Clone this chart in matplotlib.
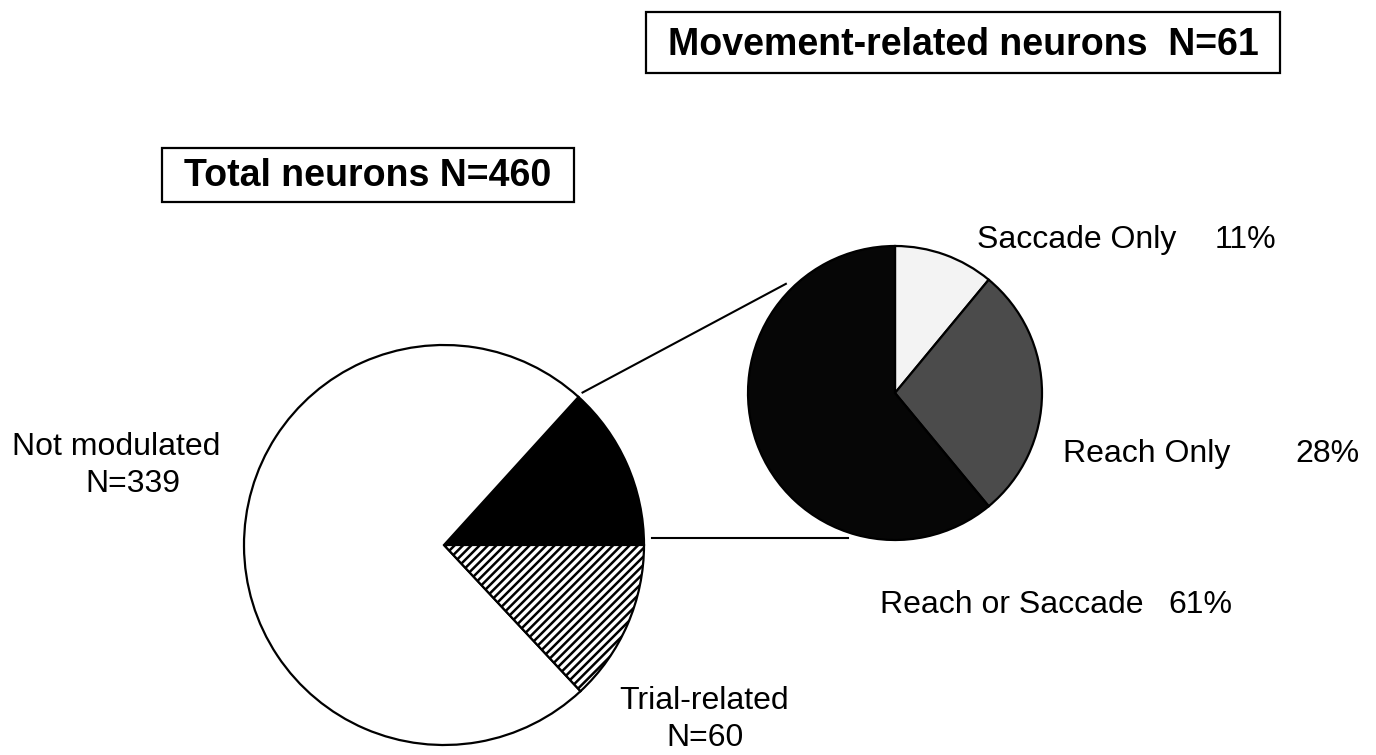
import matplotlib.pyplot as plt
from matplotlib.lines import Line2D
from matplotlib.patches import Rectangle
import numpy as np

# all neurons
total_counts = [61, 339, 60]          # movement, not modulated, trial
total_colors = ['black', 'white', 'white']
total_hatches = [None, None, '////']

# movement-related neurons, percent
move_labels = ['Saccade Only', 'Reach Only', 'Reach or Saccade']
move_pct = [11, 28, 61]
move_colors = ['#f3f3f3', '#4b4b4b', '#060606']

W, H = 1376, 755


def py(y):
    # pixel row (from top) -> axes y
    return H - y


def main():
    plt.rcParams['font.family'] = ['Liberation Sans', 'DejaVu Sans']
    plt.rcParams['hatch.linewidth'] = 1.8
    fig = plt.figure(figsize=(W / 100, H / 100), dpi=100)
    ax = fig.add_axes([0, 0, 1, 1])

    big_c = (444, py(545))
    big_r = 200
    wedges, _ = ax.pie(total_counts, colors=total_colors, startangle=0,
                       center=big_c, radius=big_r, frame=True,
                       wedgeprops=dict(edgecolor='black', linewidth=1.6))
    for w, h in zip(wedges, total_hatches):
        if h:
            w.set_hatch(h)

    small_c = (895, py(393))
    small_r = 147
    ax.pie(move_pct, colors=move_colors, startangle=90, counterclock=False,
           center=small_c, radius=small_r, frame=True,
           wedgeprops=dict(edgecolor='black', linewidth=1.6))

    # connecting lines between the two pies
    a = np.deg2rad(total_counts[0] / sum(total_counts) * 360)
    x0 = big_c[0] + 1.03 * big_r * np.cos(a)
    y0 = big_c[1] + 1.03 * big_r * np.sin(a)
    x1 = small_c[0] + 1.05 * small_r * np.cos(np.deg2rad(135))
    y1 = small_c[1] + 1.05 * small_r * np.sin(np.deg2rad(135))
    ax.add_line(Line2D([x0, x1], [y0, y1], color='black', lw=1.5))
    ax.add_line(Line2D([652, 848], [py(538), py(538)], color='black', lw=1.5))

    ax.set_xlim(0, W)
    ax.set_ylim(0, H)
    ax.set_aspect('equal')
    ax.axis('off')

    # title boxes
    ax.add_patch(Rectangle((646, py(73)), 634, 61, facecolor='white',
                           edgecolor='black', lw=1.6))
    ax.text(963, py(55), 'Movement-related neurons  N=61', fontsize=27,
            fontweight='bold', ha='center', va='baseline')
    ax.add_patch(Rectangle((162, py(202)), 412, 54, facecolor='white',
                           edgecolor='black', lw=1.6))
    ax.text(368, py(186), 'Total neurons N=460', fontsize=27,
            fontweight='bold', ha='center', va='baseline')

    fs = 23
    ax.text(977, py(248), move_labels[0], fontsize=fs, va='baseline')
    ax.text(1215, py(248), f'{move_pct[0]}%', fontsize=fs, va='baseline')
    ax.text(1063, py(462), move_labels[1], fontsize=fs, va='baseline')
    ax.text(1295, py(462), f'{move_pct[1]}%', fontsize=fs, va='baseline')
    ax.text(880, py(613), move_labels[2], fontsize=fs, va='baseline')
    ax.text(1168, py(613), f'{move_pct[2]}%', fontsize=fs, va='baseline')

    ax.text(116, py(455), 'Not modulated', fontsize=fs, ha='center', va='baseline')
    ax.text(133, py(492), f'N={total_counts[1]}', fontsize=fs, ha='center', va='baseline')
    ax.text(704, py(709), 'Trial-related', fontsize=fs, ha='center', va='baseline')
    ax.text(705, py(746), f'N={total_counts[2]}', fontsize=fs, ha='center', va='baseline')

    fig.savefig('out.png', dpi=100, facecolor='white')


if __name__ == '__main__':
    main()
